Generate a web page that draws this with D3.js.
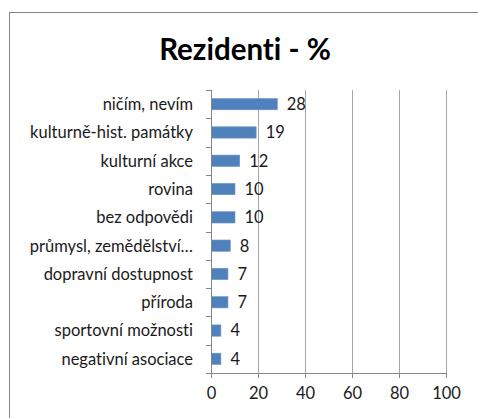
<!DOCTYPE html>
<html>
<head>
<meta charset="utf-8">
<script src="https://cdn.jsdelivr.net/npm/d3@7"></script>
<style>
  body { margin: 0; background: #fff; }
  text { font-family: Lato, "Open Sans", sans-serif; fill: #1a1a1a; font-variant-ligatures: none; }
</style>
</head>
<body>
<svg class="chart"></svg>
<script>
// Chart data
const categories = [
  "ničím, nevím",
  "kulturně-hist. památky",
  "kulturní akce",
  "rovina",
  "bez odpovědi",
  "průmysl, zemědělství…",
  "dopravní dostupnost",
  "příroda",
  "sportovní možnosti",
  "negativní asociace"
];
const values = [28, 19, 12, 10, 10, 8, 7, 7, 4, 4];
const xTicks = [0, 20, 40, 60, 80, 100];
const title = "Rezidenti - %";

const W = 478, H = 418;
const margin = { top: 90, right: 32, bottom: 45, left: 211 };
const width = W - margin.left - margin.right,
  height = H - margin.top - margin.bottom;

const svg = d3.select(".chart").attr("width", W).attr("height", H);

// Outer chart border
svg.append("rect")
  .attr("x", 9.5).attr("y", 12.5)
  .attr("width", W).attr("height", H)
  .attr("fill", "none").attr("stroke", "#868686");

// Title
svg.append("text")
  .attr("x", 245).attr("y", 60)
  .attr("text-anchor", "middle")
  .style("font-size", "29.5px").style("font-weight", "bold")
  .style("fill", "#000")
  .text(title);

const g = svg.append("g")
  .attr("transform", "translate(" + margin.left + "," + margin.top + ")");

const x = d3.scaleLinear().domain([0, 100]).range([0, width]);
const y = d3.scaleBand().domain(categories).range([0, height]).paddingInner(0.6).paddingOuter(0.3);
const yb = d3.scaleBand().domain(categories).range([0, height]);

// Gridlines
g.selectAll(".grid")
  .data(xTicks.slice(1))
  .enter().append("line")
  .attr("x1", d => Math.round(x(d)) + 0.5).attr("x2", d => Math.round(x(d)) + 0.5)
  .attr("y1", 0).attr("y2", height)
  .attr("stroke", "#a6a6a6");

// Bars
g.selectAll(".bar")
  .data(values)
  .enter().append("rect")
  .attr("x", x(0) + 0.5)
  .attr("y", (d, i) => y(categories[i]))
  .attr("width", d => x(d) - x(0))
  .attr("height", y.bandwidth())
  .attr("fill", "#4f81bd")
  .attr("stroke", "#6f97c9").attr("stroke-width", 0.6);

// Value labels
g.selectAll(".val")
  .data(values)
  .enter().append("text")
  .attr("x", d => x(d) + 10)
  .attr("y", (d, i) => yb(categories[i]) + yb.bandwidth() / 2)
  .attr("dy", "0.36em")
  .style("font-size", "16.5px")
  .text(d => d);

// Y axis (category)
const yAxis = g.append("g");
yAxis.append("line")
  .attr("x1", 0.5).attr("x2", 0.5).attr("y1", 0).attr("y2", height)
  .attr("stroke", "#868686");
yAxis.selectAll(".tk")
  .data(d3.range(categories.length + 1))
  .enter().append("line")
  .attr("x1", -5).attr("x2", 0.5)
  .attr("y1", i => Math.round(i * yb.step()) + 0.5)
  .attr("y2", i => Math.round(i * yb.step()) + 0.5)
  .attr("stroke", "#868686");
yAxis.selectAll(".lbl")
  .data(categories)
  .enter().append("text")
  .attr("x", -18)
  .attr("y", d => yb(d) + yb.bandwidth() / 2)
  .attr("dy", "0.36em")
  .attr("text-anchor", "end")
  .style("font-size", "16.5px")
  .text(d => d);

// X axis
const xAxis = g.append("g").attr("transform", "translate(0," + height + ")")
  .call(d3.axisBottom(x).tickValues(xTicks).tickSize(5).tickPadding(9));
xAxis.selectAll("line, path").attr("stroke", "#868686");
xAxis.selectAll("text")
  .style("font-family", "Lato, sans-serif")
  .style("font-size", "16.5px")
  .attr("fill", "#1a1a1a");
</script>
</body>
</html>
